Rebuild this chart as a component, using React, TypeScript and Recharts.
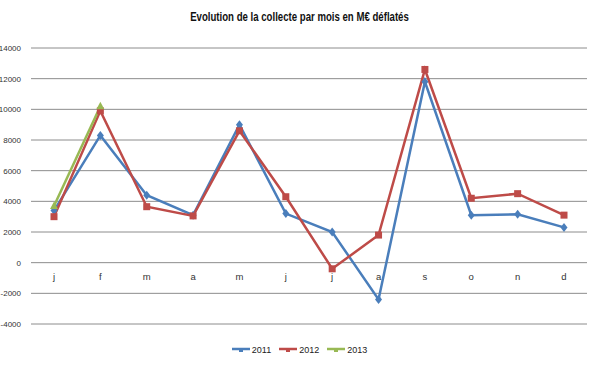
import { CartesianGrid, Line, LineChart, XAxis, YAxis } from "recharts"

const months = ["j", "f", "m", "a", "m", "j", "j", "a", "s", "o", "n", "d"]
const values2011 = [3400, 8300, 4400, 3100, 9000, 3200, 2000, -2400, 11800, 3100, 3150, 2300]
const values2012 = [3000, 9900, 3650, 3050, 8600, 4300, -400, 1800, 12600, 4200, 4500, 3100]
const values2013 = [3700, 10200]
const yTicks = [-4000, -2000, 0, 2000, 4000, 6000, 8000, 10000, 12000, 14000]

const data = months.map((m, i) => ({
  month: m,
  y2011: values2011[i],
  y2012: values2012[i],
  y2013: i < values2013.length ? values2013[i] : null,
}))

const BLUE = "#4a7ebb"
const RED = "#be4b48"
const GREEN = "#98b954"
const FONT = "'Liberation Sans', Arial, sans-serif"

document.body.style.margin = "0"

function Diamond({ cx, cy }: any) {
  if (cx == null || cy == null) return null
  return <path d={`M${cx},${cy - 4.5}L${cx + 3.5},${cy}L${cx},${cy + 4.5}L${cx - 3.5},${cy}Z`} fill={BLUE} />
}

function Square({ cx, cy }: any) {
  if (cx == null || cy == null) return null
  return <rect x={cx - 3.5} y={cy - 3.5} width={7} height={7} fill={RED} />
}

function Triangle({ cx, cy }: any) {
  if (cx == null || cy == null) return null
  return <path d={`M${cx},${cy - 4.5}L${cx + 4},${cy + 3}L${cx - 4},${cy + 3}Z`} fill={GREEN} />
}

function MonthTick({ x, y, payload }: any) {
  return (
    <text x={x} y={y - 52} textAnchor="middle" fontSize={9.5} fontFamily={FONT} fill="#333">
      {payload.value}
    </text>
  )
}

const legendItems = [
  { label: "2011", color: BLUE },
  { label: "2012", color: RED },
  { label: "2013", color: GREEN },
]

export default function App() {
  return (
    <div style={{ position: "relative", width: 599, height: 370, background: "#fff" }}>
      <div
        style={{
          position: "absolute",
          top: 9,
          left: 0,
          width: 599,
          textAlign: "center",
          fontFamily: FONT,
          fontWeight: "bold",
          fontSize: 13,
          color: "#111",
          transform: "scaleX(0.74)",
        }}
      >
        Evolution de la collecte par mois en M€ déflatés
      </div>
      <LineChart width={599} height={370} data={data} margin={{ top: 48, right: 12, bottom: 45, left: 0 }}>
        <CartesianGrid vertical={false} stroke="#8c8c8c" />
        <XAxis
          dataKey="month"
          padding={{ left: 23, right: 23 }}
          axisLine={false}
          tickLine={false}
          height={1}
          tick={<MonthTick />}
          interval={0}
        />
        <YAxis
          domain={[-4000, 14000]}
          ticks={yTicks}
          axisLine={false}
          tickLine={false}
          width={31}
          tick={{ fontSize: 8, fontFamily: FONT, fill: "#333" }}
          tickMargin={4}
        />
        <Line type="linear" dataKey="y2011" stroke={BLUE} strokeWidth={2.5} dot={<Diamond />} isAnimationActive={false} />
        <Line type="linear" dataKey="y2012" stroke={RED} strokeWidth={2.5} dot={<Square />} isAnimationActive={false} />
        <Line type="linear" dataKey="y2013" stroke={GREEN} strokeWidth={2.5} dot={<Triangle />} isAnimationActive={false} />
      </LineChart>
      <div
        style={{
          position: "absolute",
          top: 345,
          left: 0,
          width: 599,
          display: "flex",
          justifyContent: "center",
          gap: 8,
          fontFamily: FONT,
          fontSize: 9,
          color: "#222",
        }}
      >
        {legendItems.map((it) => (
          <div key={it.label} style={{ display: "flex", alignItems: "center" }}>
            <svg width={18} height={10} style={{ marginRight: 2 }}>
              <line x1={0} y1={4} x2={18} y2={4} stroke={it.color} strokeWidth={2.5} />
              <rect x={7} y={4} width={4} height={3} fill={it.color} />
            </svg>
            <span>{it.label}</span>
          </div>
        ))}
      </div>
    </div>
  )
}
